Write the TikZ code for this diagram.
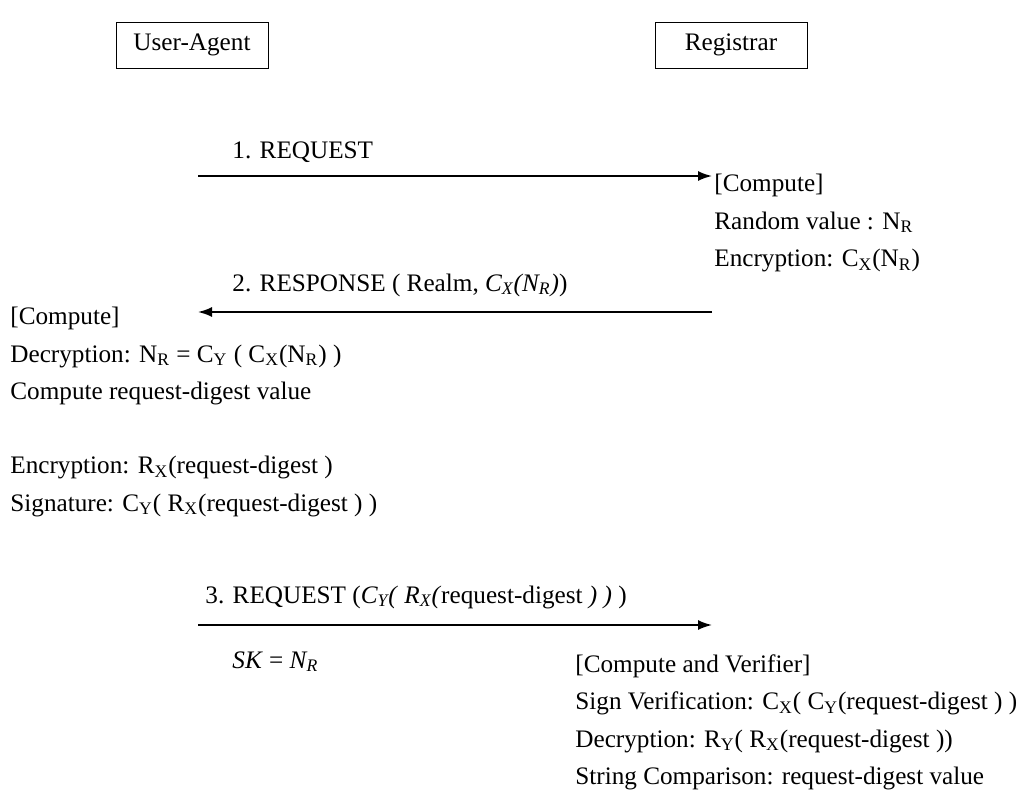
\documentclass[tikz,border=0pt]{standalone}
\usepackage{fontspec}
\setmainfont{Liberation Serif}
\usetikzlibrary{arrows.meta, positioning}
\newcommand{\sub}[1]{\textsubscript{#1}}

\begin{document}
\begin{tikzpicture}[>={Latex[length=7pt,width=5pt]}, x=0.5pt, y=-0.5pt,
  every node/.style={font=\fontsize{12.6}{18.75}\selectfont},
  actor/.style={draw, line width=0.5pt, minimum width=76pt, minimum height=23pt, inner sep=0pt},
  msg/.style={->, line width=0.9pt},
  lbl/.style={anchor=base west, inner sep=0pt},
  txt/.style={anchor=north west, align=left, inner sep=0pt}]
\useasboundingbox (0,0) rectangle (1019,793);
% actors
\node[actor] (ua) at (192,45) {User-Agent};
\node[actor] (rg) at (731,45) {Registrar};
% message end points
\coordinate (ua1) at (198,176); \coordinate (rg1) at (712,176);
\coordinate (ua2) at (198,312); \coordinate (rg2) at (712,312);
\coordinate (ua3) at (198,625); \coordinate (rg3) at (712,625);
\draw[msg] (ua1) -- (rg1);
\draw[msg] (rg2) -- (ua2);
\draw[msg] (ua3) -- (rg3);
% message labels
\node[lbl] (m1) at (232,158) {1. REQUEST};
\node[lbl] (m2) at (232,291) {2. RESPONSE ( Realm, \textit{C\sub{X}(N\sub{R})})};
\node[lbl] (m3) at (205,603) {3. REQUEST (\textit{C\sub{Y}(} \textit{R\sub{X}(}request-digest \textit{) )} )};
\node[lbl] (sk) at (232,668) {\textit{SK} = \textit{N\sub{R}}};
% computations
\node[txt] (rc1) at (714,174) {[Compute]\\
  Random value : N\sub{R}\\
  Encryption: C\sub{X}(N\sub{R})};
\node[txt] (uc1) at (10,307) {[Compute]\\
  Decryption: N\sub{R} = C\sub{Y} ( C\sub{X}(N\sub{R}) )\\
  Compute request-digest value};
\node[txt] (uc2) at (10,456) {Encryption: R\sub{X}(request-digest )\\
  Signature: C\sub{Y}( R\sub{X}(request-digest ) )};
\node[txt] (rc2) at (575,654) {[Compute and Verifier]\\
  Sign Verification: C\sub{X}( C\sub{Y}(request-digest ) )\\
  Decryption: R\sub{Y}( R\sub{X}(request-digest ))\\
  String Comparison: request-digest value};
\end{tikzpicture}
\end{document}
